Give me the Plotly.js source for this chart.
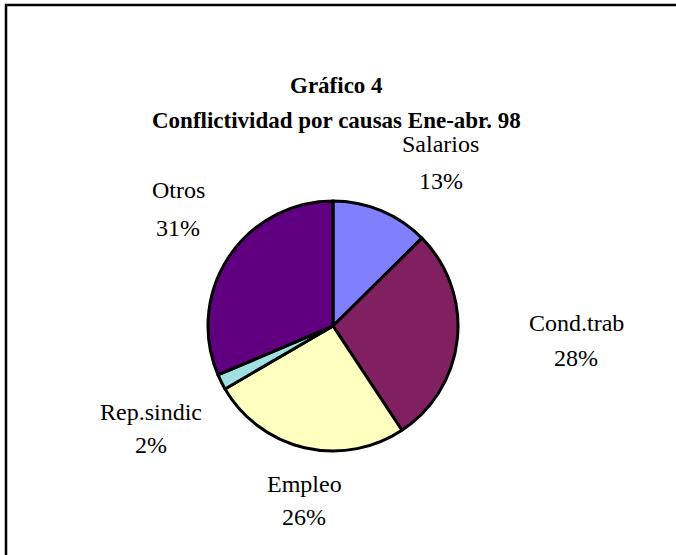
<!DOCTYPE html>
<html>
<head>
<meta charset="utf-8">
<script src="https://cdn.plot.ly/plotly-3.0.1.min.js"></script>
<style>html,body{margin:0;padding:0;background:#fff;}#chart{width:676px;height:555px;}</style>
</head>
<body>
<div id="chart"></div>
<script>
// Data
var categories = ["Salarios", "Cond.trab", "Empleo", "Rep.sindic", "Otros"];
var values = [12.6, 28.1, 25.9, 2.0, 31.4];
var colors = ["#8080FF", "#802060", "#FFFFC0", "#A0E0E0", "#600080"];
var titleLines = ["Gráfico 4", "Conflictividad por causas Ene-abr. 98"];

// Label placement (pixels in 676x555 page): [x, y of name, y of percent]
var labelPos = [[441, 144, 181], [576, 323, 358], [304, 484, 517], [151, 412, 445], [178, 190, 228]];
var titlePos = [[336, 86], [336, 120]];

var W = 676, H = 555;
var cx = 333, cy = 326, r = 125;
var total = values.reduce(function(a, b){ return a + b; }, 0);
var FONT = 'Liberation Serif';

var annotations = [];
categories.forEach(function(c, i){
  var lines = [c, Math.round(values[i] / total * 100) + '%'];
  lines.forEach(function(t, k){
    annotations.push({
      x: labelPos[i][0] / W, y: 1 - labelPos[i][1 + k] / H,
      xref: 'paper', yref: 'paper', xanchor: 'center', yanchor: 'middle',
      showarrow: false, text: t,
      font: {family: FONT, size: 24, color: '#000'}
    });
  });
});
titleLines.forEach(function(t, k){
  annotations.push({
    x: titlePos[k][0] / W, y: 1 - titlePos[k][1] / H,
    xref: 'paper', yref: 'paper', xanchor: 'center', yanchor: 'middle',
    showarrow: false, text: '<b>' + t + '</b>',
    font: {family: FONT, size: 23, color: '#000'}
  });
});

var trace = {
  type: 'pie',
  labels: categories,
  values: values,
  sort: false,
  direction: 'clockwise',
  rotation: 0,
  textinfo: 'none',
  hoverinfo: 'label+percent',
  marker: {colors: colors, line: {color: '#000', width: 3}},
  domain: {x: [(cx - r) / W, (cx + r) / W], y: [1 - (cy + r) / H, 1 - (cy - r) / H]},
  showlegend: false
};

var layout = {
  width: W, height: H,
  margin: {l: 0, r: 0, t: 0, b: 0},
  paper_bgcolor: '#fff',
  showlegend: false,
  font: {family: FONT},
  annotations: annotations,
  shapes: [{
    type: 'rect', xref: 'paper', yref: 'paper',
    x0: 6 / W, x1: 1.02, y0: -0.02, y1: 1 - 5 / H,
    line: {color: '#000', width: 2.5}
  }]
};

Plotly.newPlot('chart', [trace], layout, {staticPlot: true, displayModeBar: false});
</script>
</body>
</html>
